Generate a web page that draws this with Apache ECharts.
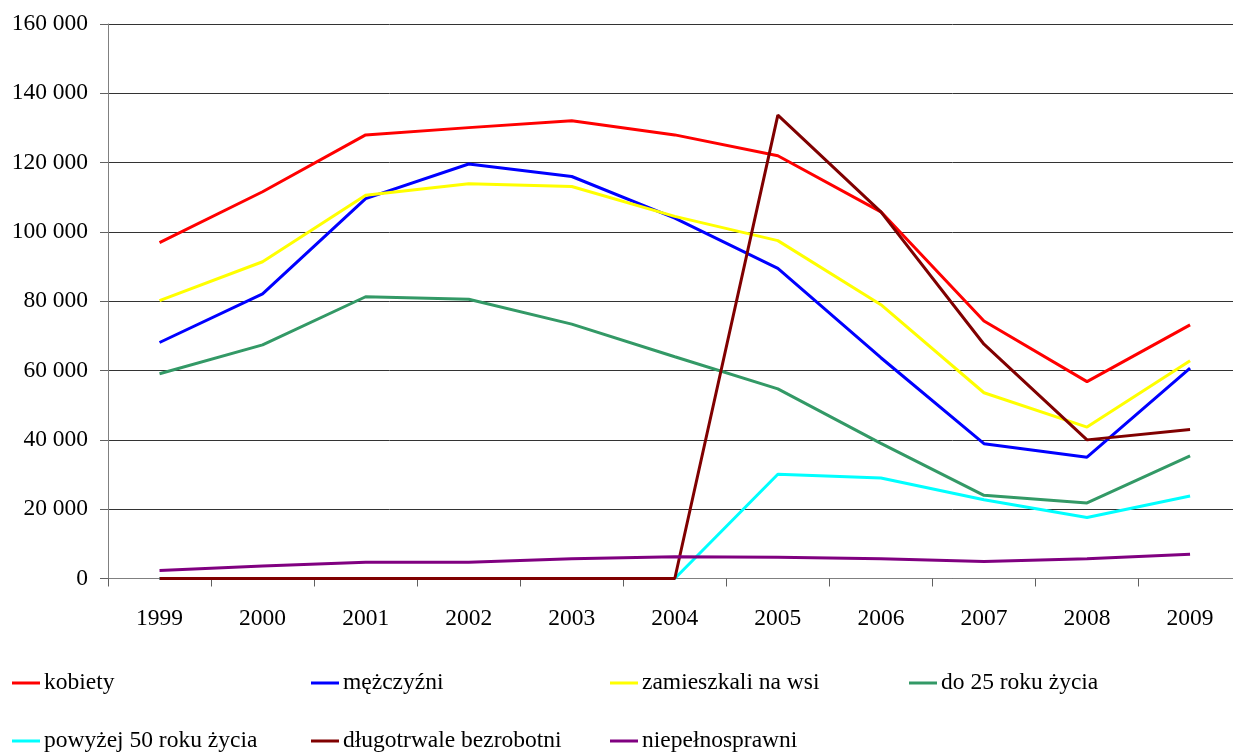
<!DOCTYPE html>
<html>
<head>
<meta charset="utf-8">
<script src="https://cdn.jsdelivr.net/npm/echarts@6/dist/echarts.min.js"></script>
<style>html,body{margin:0;padding:0;background:#fff}#c{width:1233px;height:753px}</style>
</head>
<body>
<div id="c"></div>
<script>
const years = ['1999','2000','2001','2002','2003','2004','2005','2006','2007','2008','2009'];
const kobiety = [96900, 111600, 128000, 130100, 132100, 128000, 122000, 105800, 74300, 56800, 73200];
const mezczyzni = [68100, 82100, 109600, 119600, 116000, 104000, 89500, 63700, 38900, 35000, 60700];
const wies = [80200, 91400, 110600, 113900, 113100, 104500, 97500, 79000, 53600, 43700, 62800];
const do25 = [59100, 67400, 81300, 80600, 73400, 64000, 54700, 39000, 24000, 21800, 35400];
const pow50 = [0, 0, 0, 0, 0, 0, 30100, 29000, 22700, 17600, 23800];
const dlugo = [0, 0, 0, 0, 0, 0, 133700, 105800, 67600, 40000, 43000];
const niepeln = [2300, 3600, 4700, 4700, 5700, 6300, 6100, 5700, 4900, 5700, 7000];
const seriesNames = ['kobiety','mężczyźni','zamieszkali na wsi','do 25 roku życia','powyżej 50 roku życia','długotrwale bezrobotni','niepełnosprawni'];
const seriesData = [kobiety, mezczyzni, wies, do25, pow50, dlugo, niepeln];
const colors = ['#ff0000','#0000ff','#ffff00','#339966','#00ffff','#800000','#800080'];
const yTicks = {min: 0, max: 160000, interval: 20000};

const FONT = 'Liberation Serif';
const legendPos = [[12,671],[311,671],[610,671],[909,671],[12,729],[311,729],[610,729]];

const chart = echarts.init(document.getElementById('c'), null, {renderer:'canvas'});
chart.setOption({
  animation: false,
  backgroundColor: '#fff',
  grid: {left: 108, top: 24, width: 1133.6, height: 554.5, containLabel: false, outerBoundsMode: 'none'},
  xAxis: {
    type: 'category',
    data: years,
    boundaryGap: true,
    axisLine: {show: true, lineStyle: {color: '#808080', width: 1}},
    axisTick: {show: true, alignWithLabel: false, length: 8, inside: false, lineStyle: {color: '#606060'}},
    axisLabel: {color: '#000', fontFamily: FONT, fontSize: 23.5, margin: 28},
    splitLine: {show: false}
  },
  yAxis: {
    type: 'value',
    min: yTicks.min, max: yTicks.max, interval: yTicks.interval,
    axisLine: {show: true, lineStyle: {color: '#808080', width: 1}},
    axisTick: {show: true, length: 8, lineStyle: {color: '#606060'}},
    axisLabel: {color: '#000', fontFamily: FONT, fontSize: 23.5, margin: 20,
      formatter: v => v === 0 ? '0' : String(v).replace(/\B(?=(\d{3})+(?!\d))/g, ' ')},
    splitLine: {show: true, lineStyle: {color: '#333333', width: 1}}
  },
  legend: seriesNames.map((n, i) => ({
    data: [{name: n, icon: 'rect'}],
    left: legendPos[i][0], top: legendPos[i][1],
    itemWidth: 28, itemHeight: 3, itemGap: 0, padding: 0,
    textStyle: {color: '#000', fontFamily: FONT, fontSize: 23.5, padding: [0,0,0,-1]}
  })),
  series: seriesNames.map((n, i) => ({
    name: n,
    type: 'line',
    data: seriesData[i],
    symbol: 'none',
    showSymbol: false,
    lineStyle: {color: colors[i], width: 3},
    itemStyle: {color: colors[i]},
    z: 2 + i
  }))
});
</script>
</body>
</html>
